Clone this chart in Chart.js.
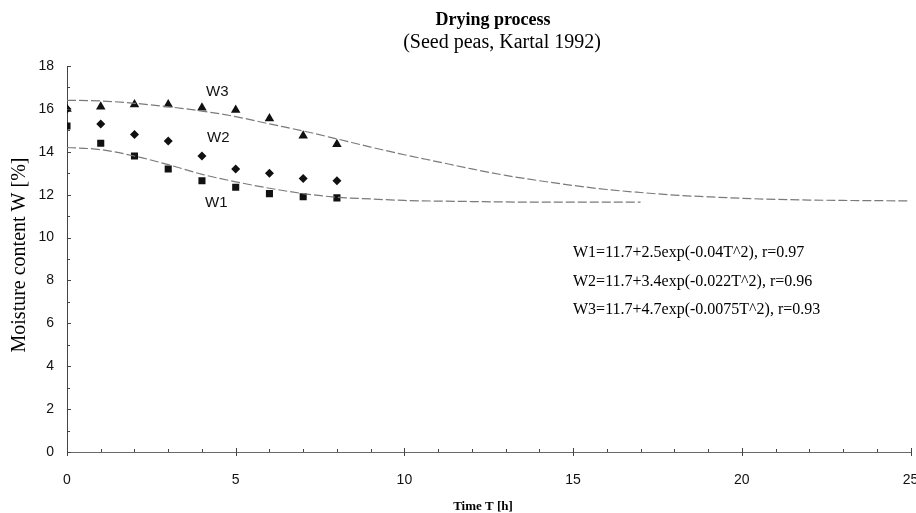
<!DOCTYPE html>
<html>
<head>
<meta charset="utf-8">
<script src="https://cdn.jsdelivr.net/npm/chart.js@4.4.1/dist/chart.umd.min.js"></script>
<style>
  html, body { margin: 0; padding: 0; background: #ffffff; }
  #wrap { width: 916px; height: 513px; position: relative; }
</style>
</head>
<body>
<div id="wrap"><canvas id="c" width="916" height="513"></canvas></div>
<script>
// ---- data ----
const timeH = [0, 1, 2, 3, 4, 5, 6, 7, 8];
const w1Measured = [15.2, 14.4, 13.8, 13.2, 12.65, 12.35, 12.05, 11.9, 11.85];
const w2Measured = [16.0, 15.3, 14.8, 14.5, 13.8, 13.2, 13.0, 12.75, 12.65];
const w3Measured = [16.0, 16.1, 16.2, 16.2, 16.05, 15.95, 15.55, 14.75, 14.35];

const fitTimeW1 = [0, 1, 2, 3, 4, 5, 6, 7, 8, 9, 10, 11, 12, 13, 14, 15, 16, 17];
const fitW1 = [14.2, 14.1, 13.8, 13.4, 12.95, 12.6, 12.3, 12.05, 11.88, 11.8, 11.73, 11.7, 11.68, 11.66, 11.65, 11.65, 11.65, 11.65];
const fitTimeW3 = [0, 1, 2, 3, 4, 5, 6, 7, 8, 9, 10, 11, 12, 13, 14, 15, 16, 17, 18, 19, 20, 21, 22, 23, 24, 25];
const fitW3 = [16.4, 16.37, 16.26, 16.1, 15.9, 15.64, 15.3, 14.97, 14.6, 14.22, 13.86, 13.53, 13.2, 12.9, 12.65, 12.43, 12.24, 12.1, 11.98, 11.9, 11.83, 11.78, 11.75, 11.73, 11.72, 11.71];

const xTicks = [0, 5, 10, 15, 20, 25];
const yTicks = [0, 2, 4, 6, 8, 10, 12, 14, 16, 18];

const chartTitle = 'Drying process';
const chartSubtitle = '(Seed peas, Kartal 1992)';
const xTitle = 'Time T [h]';
const yTitle = 'Moisture content W [%]';
const seriesLabels = ['W1', 'W2', 'W3'];
const equations = [
  'W1=11.7+2.5exp(-0.04T^2), r=0.97',
  'W2=11.7+3.4exp(-0.022T^2), r=0.96',
  'W3=11.7+4.7exp(-0.0075T^2), r=0.93'
];

const pts = (xs, ys) => xs.map((x, i) => ({ x: x, y: ys[i] }));

const SERIF = '"Liberation Serif", "Times New Roman", serif';
const SANS = '"Liberation Sans", Arial, sans-serif';

const annotate = {
  id: 'annotate',
  afterDraw(chart) {
    const ctx = chart.ctx;
    const xs = chart.scales.x, ys = chart.scales.y;
    ctx.save();
    // minor / major tick marks
    ctx.strokeStyle = '#444';
    ctx.lineWidth = 1;
    for (let v = 0; v <= 18; v++) {
      const py = Math.round(ys.getPixelForValue(v)) + 0.5;
      const len = v % 2 === 0 ? 4 : 3;
      ctx.beginPath();
      ctx.moveTo(xs.left, py);
      ctx.lineTo(xs.left + len, py);
      ctx.stroke();
    }
    for (let v = 0; v <= 25; v++) {
      const px = Math.round(xs.getPixelForValue(v)) + 0.5;
      ctx.beginPath();
      if (v % 5 === 0) {
        ctx.moveTo(px, ys.bottom - 4);
        ctx.lineTo(px, ys.bottom + 4);
      } else {
        ctx.moveTo(px, ys.bottom - 3);
        ctx.lineTo(px, ys.bottom);
      }
      ctx.stroke();
    }
    ctx.fillStyle = '#000';
    // titles
    ctx.textAlign = 'center';
    ctx.textBaseline = 'middle';
    ctx.font = 'bold 18px ' + SERIF;
    ctx.fillText(chartTitle, 493, 20);
    ctx.font = '20px ' + SERIF;
    ctx.fillText(chartSubtitle, 502, 43);
    // axis titles
    ctx.font = 'bold 13px ' + SERIF;
    ctx.fillText(xTitle, 483, 507);
    ctx.save();
    ctx.translate(20, 255);
    ctx.rotate(-Math.PI / 2);
    ctx.font = '20px ' + SERIF;
    ctx.fillText(yTitle, 0, 0);
    ctx.restore();
    // series labels
    ctx.textAlign = 'left';
    ctx.font = '15px ' + SANS;
    ctx.fillStyle = '#111';
    ctx.fillText(seriesLabels[2], 206, 92);
    ctx.fillText(seriesLabels[1], 207, 138);
    ctx.fillText(seriesLabels[0], 205, 203);
    // equations
    ctx.fillStyle = '#000';
    ctx.font = '16px ' + SERIF;
    ctx.fillText(equations[0], 573, 253);
    ctx.fillText(equations[1], 573, 282);
    ctx.fillText(equations[2], 573, 310);
    ctx.restore();
  }
};

new Chart(document.getElementById('c'), {
  type: 'scatter',
  data: {
    datasets: [
      {
        label: 'W1 fit', data: pts(fitTimeW1, fitW1), showLine: true,
        borderColor: '#7a7a7a', borderWidth: 1.2, borderDash: [9, 3],
        pointRadius: 0, cubicInterpolationMode: 'monotone', fill: false
      },
      {
        label: 'W3 fit', data: pts(fitTimeW3, fitW3), showLine: true,
        borderColor: '#7a7a7a', borderWidth: 1.2, borderDash: [9, 3],
        pointRadius: 0, cubicInterpolationMode: 'monotone', fill: false
      },
      {
        label: 'W1', data: pts(timeH, w1Measured), pointStyle: 'rect',
        pointRadius: 5, backgroundColor: '#111', borderColor: '#111', borderWidth: 0
      },
      {
        label: 'W2', data: pts(timeH, w2Measured), pointStyle: 'rectRot',
        pointRadius: 4.5, backgroundColor: '#111', borderColor: '#111', borderWidth: 0
      },
      {
        label: 'W3', data: pts(timeH, w3Measured), pointStyle: 'triangle',
        pointRadius: 5.5, backgroundColor: '#111', borderColor: '#111', borderWidth: 0
      }
    ]
  },
  options: {
    responsive: false,
    animation: false,
    layout: { padding: { left: 0, right: 3, top: 66, bottom: 0 } },
    plugins: { legend: { display: false }, tooltip: { enabled: false }, title: { display: false } },
    scales: {
      x: {
        type: 'linear', min: 0, max: 25,
        afterFit(s) { s.height = 61; s.paddingLeft = 0; s.paddingRight = 0; },
        afterBuildTicks(s) { s.ticks = xTicks.map(v => ({ value: v })); },
        grid: { display: true, drawOnChartArea: false, drawTicks: false, color: 'rgba(0,0,0,0)' },
        border: { display: true, color: '#6a6a6a', width: 1, dash: [10, 3] },
        ticks: { padding: 20, color: '#111', font: { family: SANS, size: 14 }, maxRotation: 0, autoSkip: false }
      },
      y: {
        type: 'linear', min: 0, max: 18,
        afterFit(s) { s.width = 67; s.paddingTop = 0; s.paddingBottom = 0; },
        afterBuildTicks(s) { s.ticks = yTicks.map(v => ({ value: v })); },
        grid: { display: true, drawOnChartArea: false, drawTicks: false, color: 'rgba(0,0,0,0)' },
        border: { display: true, color: '#444', width: 1 },
        ticks: { padding: 13, color: '#111', font: { family: SANS, size: 14 } }
      }
    }
  },
  plugins: [annotate]
});
</script>
</body>
</html>
